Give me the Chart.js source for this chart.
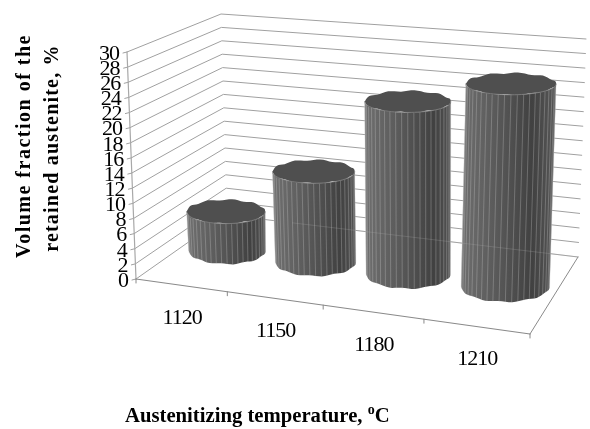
<!DOCTYPE html>
<html lang="en">
  <head>
    <meta charset="UTF-8">
    <script src="https://cdn.jsdelivr.net/npm/chart.js@4"></script>
    <style>
      html, body { margin: 0; padding: 0; background: #FFFFFF; }
      #wrap { width: 590px; height: 429px; }
    </style>
  </head>
  <body>
    <div id="wrap"><canvas id="chart" width="590" height="429"></canvas></div>
    <script>
      const categories = ['1120', '1150', '1180', '1210'];
      const retainedAustenite = [5.4, 12.3, 23, 26.5];
      const axisMin = 0;
      const axisMax = 30;
      const axisStep = 2;

      // corners of the 3D box in the picture: floor and the plane at axisMax
      const floorQuad = [[136, 279], [530, 334], [578, 257], [227, 215]];
      const topQuad = [[127, 52], [544, 88], [586, 39], [221, 14]];

      function homography(q) {
        const [x0, y0] = q[0], [x1, y1] = q[1], [x2, y2] = q[2], [x3, y3] = q[3];
        const dx1 = x1 - x2, dx2 = x3 - x2, sx = x0 - x1 + x2 - x3;
        const dy1 = y1 - y2, dy2 = y3 - y2, sy = y0 - y1 + y2 - y3;
        const den = dx1 * dy2 - dx2 * dy1;
        const g = (sx * dy2 - dx2 * sy) / den;
        const h = (dx1 * sy - sx * dy1) / den;
        const a = x1 - x0 + g * x1, b = x3 - x0 + h * x3;
        const d = y1 - y0 + g * y1, e = y3 - y0 + h * y3;
        return (u, v) => {
          const w = g * u + h * v + 1;
          return [(a * u + b * v + x0) / w, (d * u + e * v + y0) / w];
        };
      }
      const floorAt = homography(floorQuad);
      const topAt = homography(topQuad);

      // u along categories, v into the depth, h up the value axis (all 0..1)
      function project(u, v, h) {
        const f = floorAt(u, v), t = topAt(u, v);
        return [f[0] + (t[0] - f[0]) * h, f[1] + (t[1] - f[1]) * h];
      }

      function line(ctx, a, b) {
        ctx.beginPath();
        ctx.moveTo(a[0], a[1]);
        ctx.lineTo(b[0], b[1]);
        ctx.stroke();
      }

      function ellipsePath(ctx, c, rx, ry, from, to, steps, wave, join) {
        for (let i = 0; i <= steps; i++) {
          const t = from + (to - from) * i / steps;
          const x = c[0] + rx * Math.cos(t);
          const y = c[1] + ry * Math.sin(t) + wave * Math.sin(10 * t);
          if (i === 0 && !join) ctx.moveTo(x, y); else ctx.lineTo(x, y);
        }
      }

      function drawCylinder(ctx, bottom, top, rb, rt, ryb, ryt) {
        const facets = 22;
        const grad = ctx.createLinearGradient(bottom[0] - rb, 0, bottom[0] + rb, 0);
        grad.addColorStop(0, '#6e6e6e');
        grad.addColorStop(0.35, '#5c5c5c');
        grad.addColorStop(0.8, '#414141');
        grad.addColorStop(1, '#525252');

        ctx.beginPath();
        ellipsePath(ctx, top, rt, ryt, Math.PI, 0, 40, 0, false);
        ellipsePath(ctx, bottom, rb, ryb, 0, Math.PI, 40, 0.6, true);
        ctx.closePath();
        ctx.fillStyle = grad;
        ctx.fill();

        ctx.strokeStyle = 'rgba(205,205,205,0.38)';
        ctx.lineWidth = 0.8;
        for (let i = 0; i <= facets; i++) {
          const t = Math.PI * i / facets;
          line(ctx,
            [top[0] + rt * Math.cos(t), top[1] + ryt * Math.sin(t)],
            [bottom[0] + rb * Math.cos(t), bottom[1] + ryb * Math.sin(t)]);
        }

        ctx.beginPath();
        ellipsePath(ctx, top, rt, ryt, 0, Math.PI * 2, 80, 0.7, false);
        ctx.closePath();
        ctx.fillStyle = '#4f4f4f';
        ctx.fill();
        ctx.beginPath();
        ellipsePath(ctx, top, rt, ryt, 0, Math.PI, 40, 0, false);
        ctx.strokeStyle = '#858585';
        ctx.lineWidth = 0.8;
        ctx.stroke();
      }

      const box3d = {
        id: 'box3d',
        afterDatasetsDraw(chart) {
          const { ctx, chartArea: area, scales } = chart;
          const x = scales.x, y = scales.y;
          const uOf = px => (px - area.left) / area.width;
          const hOf = px => (area.bottom - px) / area.height;
          ctx.save();

          // gridlines on the left and back walls
          ctx.lineCap = 'round';
          y.ticks.forEach(t => {
            const h = hOf(y.getPixelForValue(t.value));
            ctx.strokeStyle = '#a0a0a0';
            ctx.lineWidth = 1;
            ctx.beginPath();
            const a = project(0, 0, h), b = project(0, 1, h), c = project(1, 1, h);
            ctx.moveTo(a[0], a[1]);
            ctx.lineTo(b[0], b[1]);
            ctx.lineTo(c[0], c[1]);
            ctx.stroke();
            // tick mark
            line(ctx, [a[0] - 4, a[1] + 1], a);
          });

          // value axis and floor
          ctx.strokeStyle = '#a8a8a8';
          ctx.lineWidth = 1.2;
          line(ctx, project(0, 0, 0), project(0, 0, 1));
          ctx.strokeStyle = '#8a8a8a';
          line(ctx, project(0, 0, 0), project(1, 0, 0));
          ctx.lineWidth = 1;
          line(ctx, project(1, 0, 0), project(1, 1, 0));

          // category ticks sit on the boundaries between categories
          for (let i = 0; i <= categories.length; i++) {
            const p = project(i / categories.length, 0, 0);
            line(ctx, p, [p[0], p[1] + 4]);
          }

          // cylinders
          const bars = chart.getDatasetMeta(0).data;
          bars.forEach(bar => {
            const u = uOf(bar.x), du = uOf(bar.x + bar.width / 2) - u;
            const hTop = hOf(bar.y), hBase = hOf(bar.base);
            const bottom = project(u, 0.5, hBase), top = project(u, 0.5, hTop);
            const rb = (project(u + du, 0.5, hBase)[0] - project(u - du, 0.5, hBase)[0]) / 2;
            const rt = rb * 1.02;
            // the ellipse flattens as it rises towards eye level
            drawCylinder(ctx, bottom, top, rb, rt, rb * 0.35, rt * (0.32 - 0.09 * hTop));
          });

          // back edge of the floor shows faintly through the cylinders
          ctx.strokeStyle = 'rgba(170,170,170,0.25)';
          ctx.lineWidth = 1;
          line(ctx, project(0.2, 1, 0), project(1, 1, 0));

          // tick labels
          ctx.fillStyle = '#000000';
          ctx.font = "22px 'Liberation Serif'";
          ctx.letterSpacing = '-1px';
          ctx.textAlign = 'right';
          ctx.textBaseline = 'middle';
          y.ticks.forEach(t => {
            const p = project(0, 0, hOf(y.getPixelForValue(t.value)));
            ctx.fillText(t.label, p[0] - 8, p[1] + 2);
          });
          ctx.textAlign = 'center';
          x.ticks.forEach((t, i) => {
            const p = project(uOf(x.getPixelForValue(i)), 0, 0);
            ctx.fillText(x.getLabelForValue(t.value), p[0] + 1, p[1] + 33);
          });

          // axis titles
          ctx.font = "bold 20px 'Liberation Serif'";
          ctx.textBaseline = 'alphabetic';
          ctx.letterSpacing = '1.5px';
          ctx.save();
          ctx.translate(30, 146);
          ctx.rotate(-Math.PI / 2);
          ctx.fillText('Volume fraction of the', 0, 0);
          ctx.restore();
          ctx.letterSpacing = '1.2px';
          ctx.save();
          ctx.translate(58, 148);
          ctx.rotate(-Math.PI / 2);
          ctx.fillText('retained austenite, %', 0, 0);
          ctx.restore();
          ctx.letterSpacing = '0px';

          ctx.textAlign = 'left';
          ctx.font = "bold 20.7px 'Liberation Serif'";
          const xTitle = 'Austenitizing temperature, ';
          ctx.fillText(xTitle, 125, 422);
          let tx = 125 + ctx.measureText(xTitle).width;
          ctx.font = "bold 14px 'Liberation Serif'";
          ctx.fillText('o', tx, 414);
          tx += ctx.measureText('o').width;
          ctx.font = "bold 20.7px 'Liberation Serif'";
          ctx.fillText('C', tx, 422);
          ctx.restore();
        }
      };

      new Chart(document.getElementById('chart'), {
        type: 'bar',
        plugins: [box3d],
        data: {
          labels: categories,
          datasets: [{
            label: 'Volume fraction of the retained austenite, %',
            data: retainedAustenite,
            backgroundColor: 'rgba(0,0,0,0)',
            borderWidth: 0,
            categoryPercentage: 1,
            barPercentage: 0.89
          }]
        },
        options: {
          responsive: false,
          animation: false,
          layout: { padding: 0 },
          plugins: { legend: { display: false }, tooltip: { enabled: false } },
          scales: {
            x: { display: false },
            y: { display: false, min: axisMin, max: axisMax, ticks: { stepSize: axisStep } }
          }
        }
      });
    </script>
  </body>
</html>
